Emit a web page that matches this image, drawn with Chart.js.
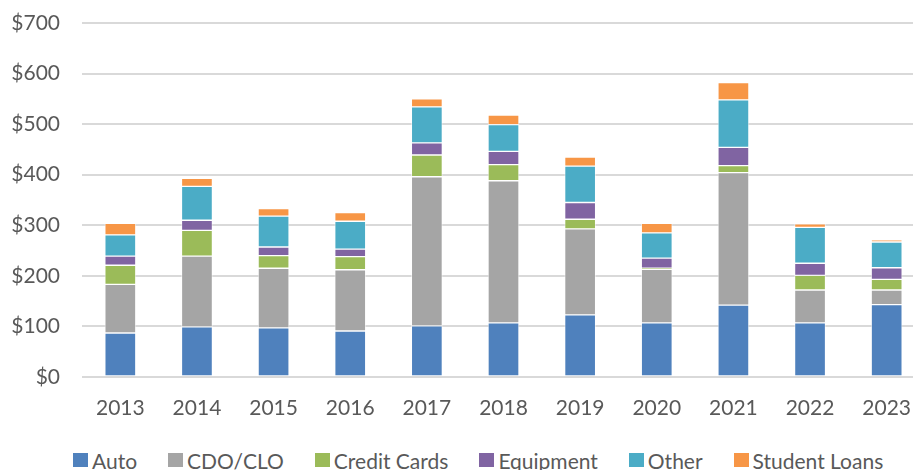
<!DOCTYPE html>
<html lang="en">
<head>
  <meta charset="UTF-8" />
  <title>Issuance by collateral</title>
  <script src="https://cdn.jsdelivr.net/npm/chart.js"></script>
  <style>
    html, body {
      margin: 0;
      padding: 0;
      background: #ffffff;
      overflow: hidden;
      width: 913px;
      height: 470px;
    }
    #wrap {
      position: absolute;
      left: 0;
      top: 0;
      width: 925px;
      height: 415px;
    }
    #legend {
      position: absolute;
      left: 73px;
      top: 448px;
      height: 24px;
      display: flex;
      align-items: center;
      font-family: Lato, 'Liberation Sans', sans-serif;
      font-size: 21px;
      color: #595959;
      white-space: nowrap;
    }
    #legend .item {
      display: flex;
      align-items: center;
      margin-right: 31px;
    }
    #legend .box {
      width: 15px;
      height: 14px;
      margin-right: 4px;
    }
  </style>
</head>
<body>
  <div id="wrap"><canvas id="chart"></canvas></div>
  <div id="legend"></div>

  <script>
    const years = ['2013', '2014', '2015', '2016', '2017', '2018', '2019', '2020', '2021', '2022', '2023'];

    const auto         = [87, 99, 97, 91, 101, 107, 123, 107, 142, 107, 143];
    const cdoClo       = [96, 140, 118, 121, 295, 281, 170, 106, 262, 65, 29];
    const creditCards  = [38, 51, 25, 26, 43, 32, 19, 2, 14, 29, 21];
    const equipment    = [18, 20, 17, 15, 24, 26, 33, 20, 36, 24, 23];
    const other        = [42, 67, 61, 55, 71, 53, 72, 50, 94, 71, 51];
    const studentLoans = [23, 16, 15, 17, 16, 19, 18, 19, 34, 7, 4];

    const yTicks = [0, 100, 200, 300, 400, 500, 600, 700];

    const font = "Lato, 'Liberation Sans', sans-serif";
    const textColor = '#595959';

    function series(label, data, color) {
      return {
        label,
        data,
        backgroundColor: color,
        borderColor: 'rgba(255,255,255,0.5)',
        borderWidth: 1,
        borderSkipped: false,
        barThickness: 31
      };
    }

    const chart = new Chart(document.getElementById('chart').getContext('2d'), {
      type: 'bar',
      data: {
        labels: years,
        datasets: [
          series('Auto', auto, '#4f81bd'),
          series('CDO/CLO', cdoClo, '#a5a5a5'),
          series('Credit Cards', creditCards, '#9bbb59'),
          series('Equipment', equipment, '#8064a2'),
          series('Other', other, '#4bacc6'),
          series('Student Loans', studentLoans, '#f79646')
        ]
      },
      options: {
        responsive: true,
        maintainAspectRatio: false,
        animation: false,
        layout: { padding: { top: 23, left: 0, right: 0, bottom: 0 } },
        plugins: {
          legend: { display: false },
          tooltip: { enabled: false }
        },
        scales: {
          x: {
            stacked: true,
            grid: { display: false },
            border: { display: false },
            afterFit: axis => {
              axis.height = 38;
              axis.paddingLeft = 0;
              axis.paddingRight = 0;
            },
            ticks: {
              font: { family: font, size: 21 },
              color: textColor,
              padding: 11
            }
          },
          y: {
            stacked: true,
            min: 0,
            max: 700,
            afterBuildTicks: axis => { axis.ticks = yTicks.map(v => ({ value: v })); },
            afterFit: axis => {
              axis.width = 82;
              axis.paddingTop = 0;
              axis.paddingBottom = 0;
            },
            grid: { color: '#d9d9d9', lineWidth: 2, drawTicks: false },
            border: { display: false },
            ticks: {
              font: { family: font, size: 21 },
              color: textColor,
              padding: 22,
              callback: v => '$' + v
            }
          }
        }
      }
    });

    // legend built from the datasets so the spacing can match the original
    const legend = document.getElementById('legend');
    chart.data.datasets.forEach(ds => {
      const item = document.createElement('div');
      item.className = 'item';
      const box = document.createElement('span');
      box.className = 'box';
      box.style.background = ds.backgroundColor;
      const txt = document.createElement('span');
      txt.textContent = ds.label;
      item.appendChild(box);
      item.appendChild(txt);
      legend.appendChild(item);
    });
  </script>
</body>
</html>
